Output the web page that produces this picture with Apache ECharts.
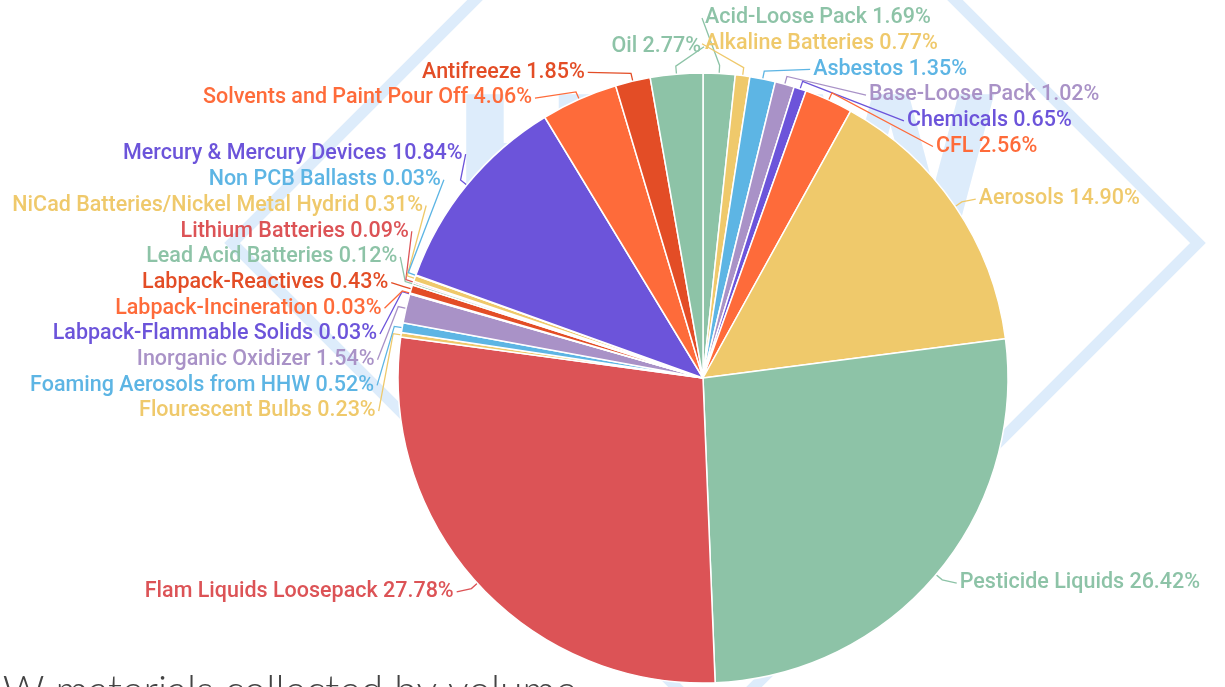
<!DOCTYPE html>
<html>
<head>
<meta charset="utf-8">
<title>HHW materials collected by volume</title>
<script src="https://cdn.jsdelivr.net/npm/echarts@6/dist/echarts.min.js"></script>
<style>
  html, body { margin: 0; padding: 0; background: #fff; }
  #main { width: 1225px; height: 687px; }
</style>
</head>
<body>
<div id="main"></div>
<script>
// categories in the order they go round the pie (clockwise from 12 o'clock)
var categories = [
  'Acid-Loose Pack', 'Alkaline Batteries', 'Asbestos', 'Base-Loose Pack', 'Chemicals', 'CFL',
  'Aerosols', 'Pesticide Liquids', 'Flam Liquids Loosepack', 'Flourescent Bulbs',
  'Foaming Aerosols from HHW', 'Inorganic Oxidizer', 'Labpack-Flammable Solids',
  'Labpack-Incineration', 'Labpack-Reactives', 'Lead Acid Batteries', 'Lithium Batteries',
  'NiCad Batteries/Nickel Metal Hydrid', 'Non PCB Ballasts', 'Mercury & Mercury Devices',
  'Solvents and Paint Pour Off', 'Antifreeze', 'Oil'
];
// share of volume, %
var shares = [
  1.69, 0.77, 1.35, 1.02, 0.65, 2.56,
  14.90, 26.42, 27.78, 0.23,
  0.52, 1.54, 0.03,
  0.03, 0.43, 0.12, 0.09,
  0.31, 0.03, 10.84,
  4.06, 1.85, 2.77
];

// palette
var GREEN = '#8dc3a7', YELLOW = '#efc96b', BLUE = '#5db5e4', LAVENDER = '#a992c7',
    VIOLET = '#6c54da', ORANGE = '#fe6b3a', REDORANGE = '#e34d26', RED = '#dc5356';
var colors = [
  GREEN, YELLOW, BLUE, LAVENDER, VIOLET, ORANGE,
  YELLOW, GREEN, RED, YELLOW,
  BLUE, LAVENDER, VIOLET,
  ORANGE, REDORANGE, GREEN, RED,
  YELLOW, BLUE, VIOLET,
  ORANGE, REDORANGE, GREEN
];

// pie geometry
var CX = 703, CY = 378, R = 305;
var LINE_OUT = 13;   // where a label would sit if nothing was in the way
var LABEL_R = 327;   // labels are lined up on this circle
var ROW = 25.7;      // label row height

// spread the labels of one side so they don't overlap, keeping each
// group of colliding labels centred on where it wanted to be
function spread(list, lo, hi) {
  list.sort(function (a, b) { return a.ny - b.ny; });
  var groups = list.map(function (it) { return [it]; });
  function start(g) {
    var mean = g.reduce(function (s, it) { return s + it.ny; }, 0) / g.length;
    var s = mean - (g.length - 1) * ROW / 2;
    return Math.max(lo, Math.min(s, hi - (g.length - 1) * ROW));
  }
  var merged = true;
  while (merged) {
    merged = false;
    for (var k = 0; k < groups.length - 1; k++) {
      if (start(groups[k]) + groups[k].length * ROW > start(groups[k + 1])) {
        groups.splice(k, 2, groups[k].concat(groups[k + 1]));
        merged = true;
        break;
      }
    }
  }
  groups.forEach(function (g) {
    var s = start(g);
    g.forEach(function (it, j) { it.y = s + j * ROW; });
  });
}

function layoutLabels() {
  var total = shares.reduce(function (s, v) { return s + v; }, 0);
  var acc = 0;
  var items = shares.map(function (v, i) {
    var theta = (acc + v / 2) / total * 2 * Math.PI;
    acc += v;
    var sin = Math.sin(theta), cos = Math.cos(theta);
    return { i: i, sin: sin, cos: cos, dir: sin >= 0 ? 1 : -1, ny: CY - (R + LINE_OUT) * cos };
  });
  [1, -1].forEach(function (dir) {
    spread(items.filter(function (it) { return it.dir === dir; }), 18, 687 - 14);
  });
  var res = [];
  items.forEach(function (it) {
    var dy = it.y - CY;
    var off = Math.sqrt(Math.max(0, LABEL_R * LABEL_R - dy * dy));
    res[it.i] = {
      x: CX + it.dir * (off + 2),
      y: it.y,
      align: it.dir > 0 ? 'left' : 'right',
      points: [
        [CX + R * it.sin, CY - R * it.cos],
        [CX + (R + 8) * it.sin, CY - (R + 8) * it.cos],
        [CX + it.dir * (off - 1), it.y]
      ]
    };
  });
  return res;
}
var labelPos = layoutLabels();

var pieData = categories.map(function (name, i) {
  return {
    name: name,
    value: shares[i],
    itemStyle: { color: colors[i] },
    label: { color: colors[i] }
  };
});

var myChart = echarts.init(document.getElementById('main'));

var option = {
  backgroundColor: '#fff',
  animation: false,
  graphic: [
    // watermark: diamond + letters
    {
      type: 'polygon',
      z: -10,
      shape: { points: [[232, 243], [715, -240], [1198, 243], [715, 726]] },
      style: { fill: 'none', stroke: '#ddecfb', lineWidth: 11 }
    },
    {
      type: 'text',
      z: -10,
      x: 448,
      y: 177,
      scaleX: 1.13,
      style: {
        text: 'HHW',
        verticalAlign: 'middle',
        font: 'bold 176px "DejaVu Sans"',
        fill: '#ddecfb'
      }
    },
    // heading, cut off by the bottom edge
    {
      type: 'text',
      z: 10,
      style: {
        text: 'HHW materials collected by volume',
        x: 577,
        y: 671,
        align: 'right',
        verticalAlign: 'top',
        font: '300 41px Lato',
        fill: '#444'
      }
    }
  ],
  series: [{
    type: 'pie',
    center: [CX, CY],
    radius: R,
    startAngle: 90,
    clockwise: true,
    avoidLabelOverlap: false,
    itemStyle: { borderColor: '#fff', borderWidth: 1.5 },
    label: {
      show: true,
      position: 'outside',
      fontFamily: 'Roboto',
      fontWeight: 500,
      fontSize: 21.5,
      lineHeight: 26,
      overflow: 'none',
      formatter: function (p) {
        return p.name + ' ' + p.value.toFixed(2) + '%';
      }
    },
    labelLine: {
      show: true,
      lineStyle: { width: 1.3 }
    },
    labelLayout: function (params) {
      var l = labelPos[params.dataIndex];
      return {
        x: l.x,
        y: l.y,
        align: l.align,
        verticalAlign: 'middle',
        labelLinePoints: l.points
      };
    },
    data: pieData
  }]
};

myChart.setOption(option);
</script>
</body>
</html>
